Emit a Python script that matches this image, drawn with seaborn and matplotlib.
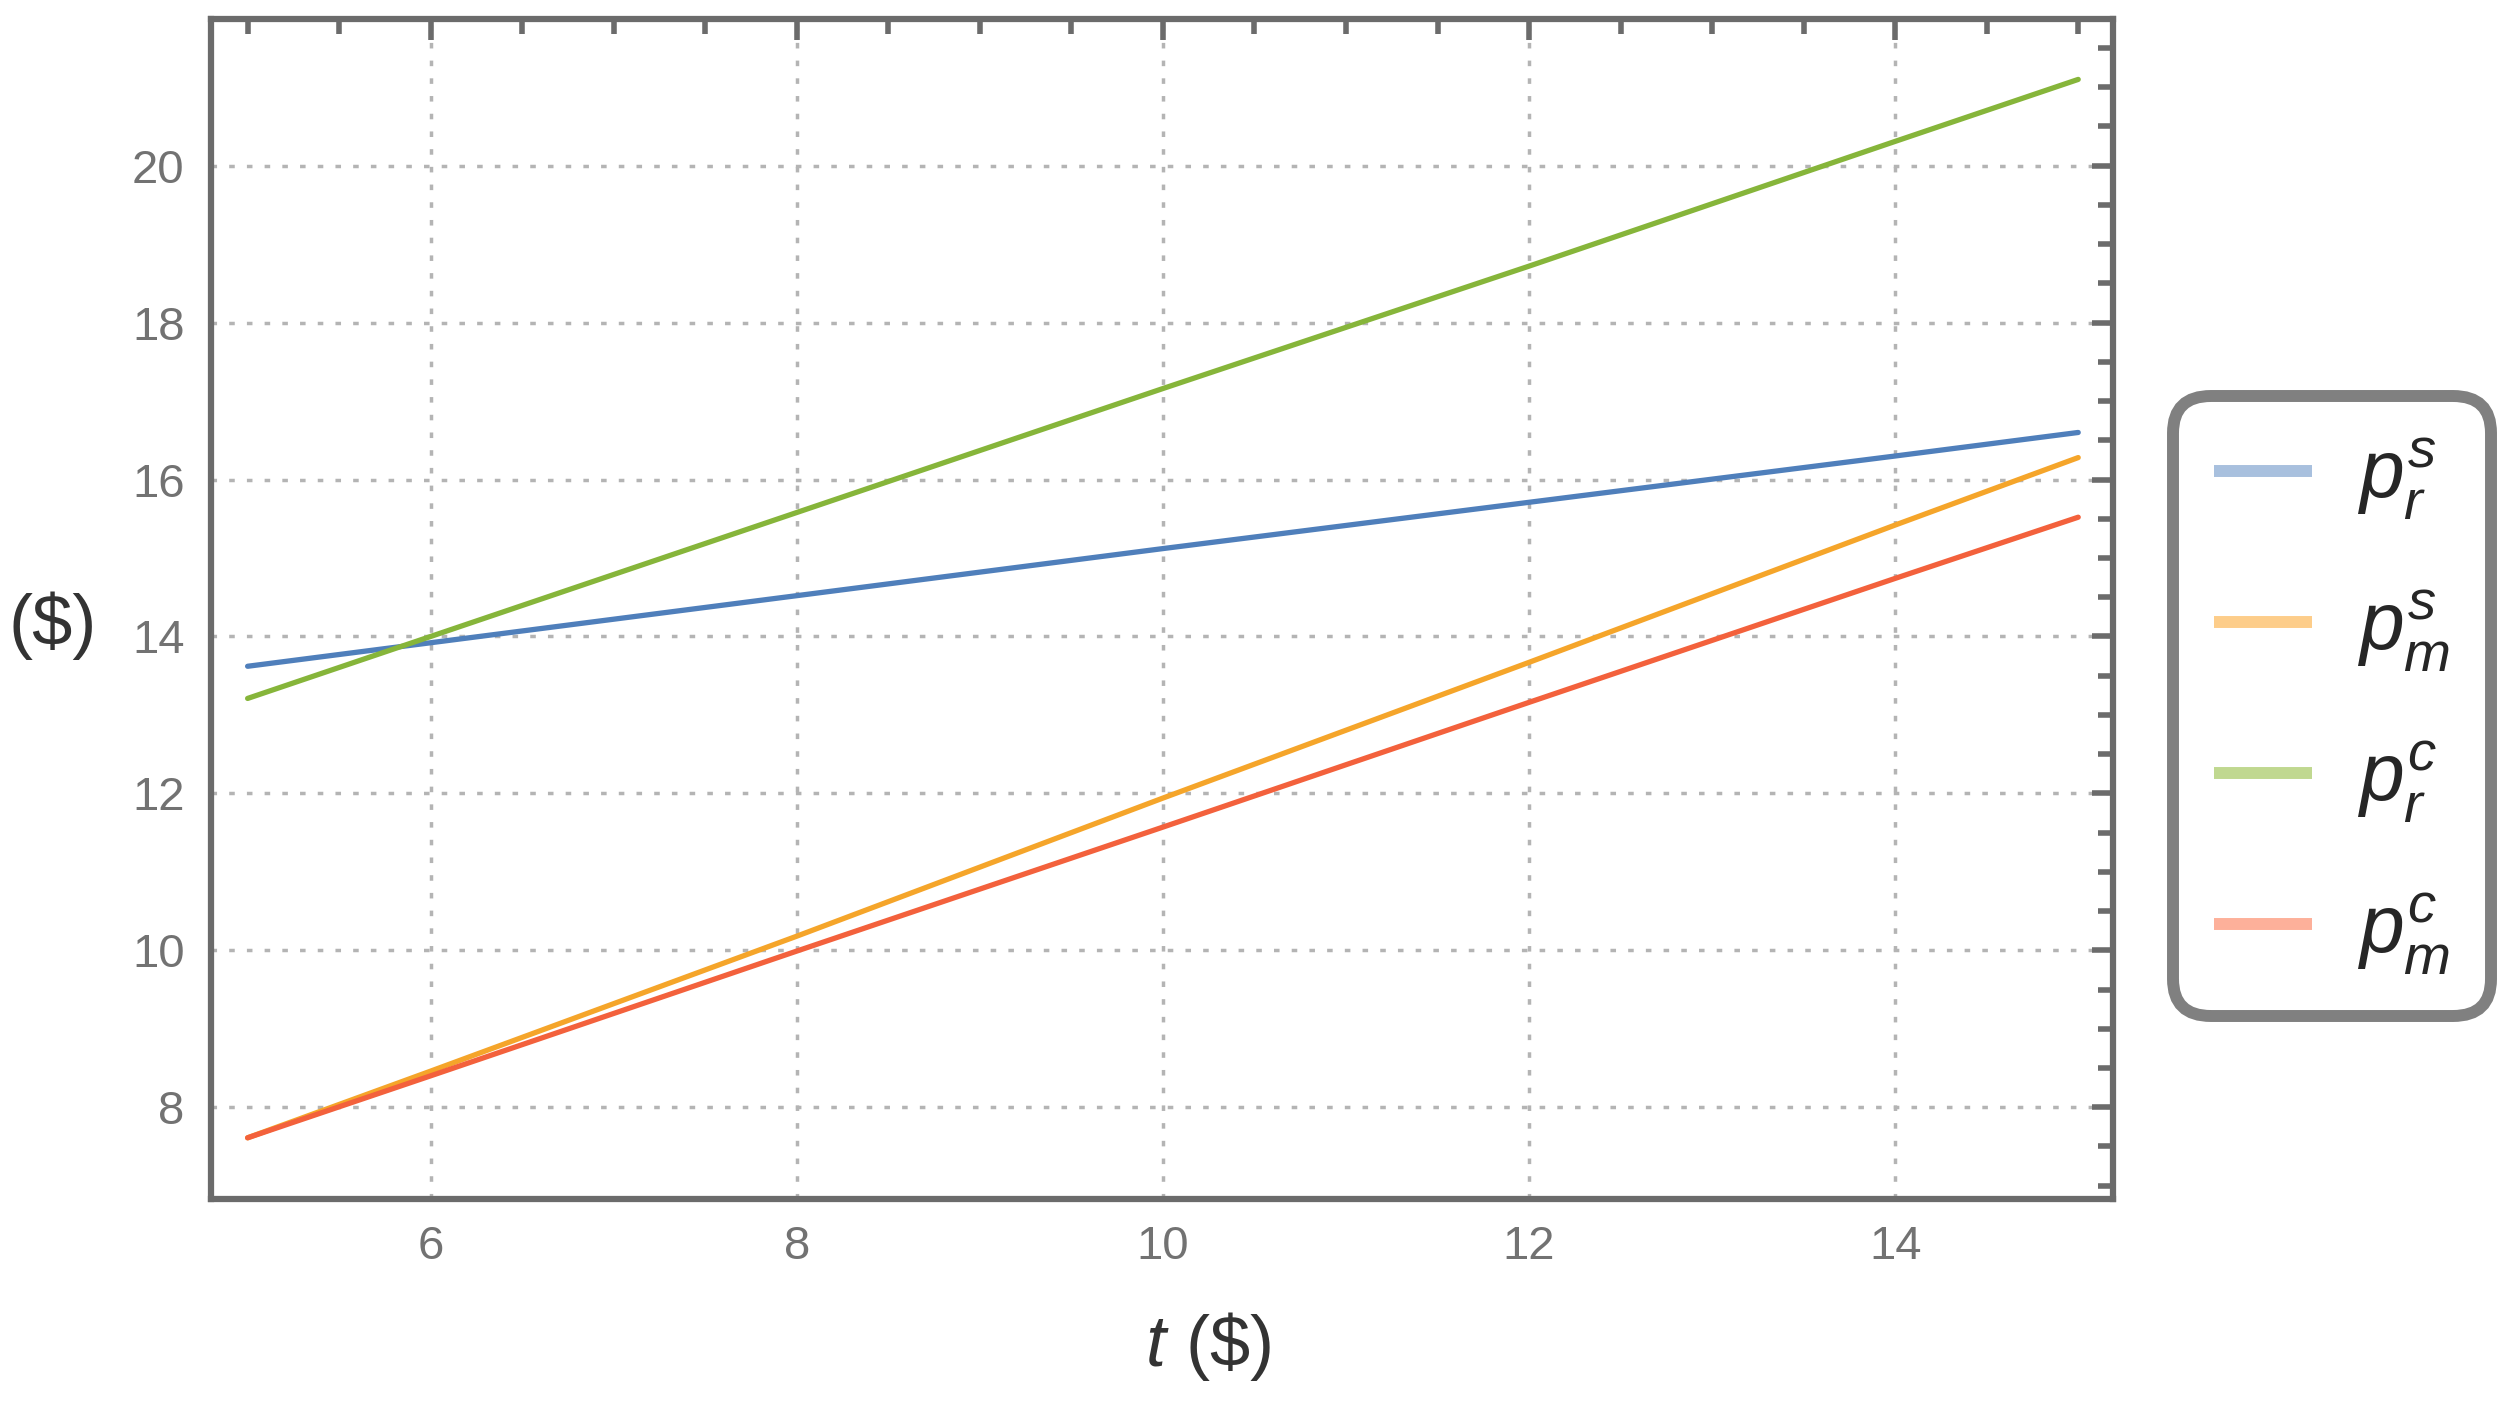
import numpy as np
import pandas as pd
import matplotlib
matplotlib.use("Agg")
import matplotlib.pyplot as plt
from matplotlib.lines import Line2D
from matplotlib.ticker import MultipleLocator, FixedLocator
import seaborn as sns

# ---- data ----
t_values = [5, 6, 8, 10, 12, 14, 15]
p_r_s = [13.62, 13.92, 14.52, 15.12, 15.71, 16.30, 16.60]
p_m_s = [7.61, 8.46, 10.18, 11.94, 13.67, 15.42, 16.28]
p_r_c = [13.21, 14.00, 15.58, 17.16, 18.72, 20.31, 21.10]
p_m_c = [7.61, 8.40, 9.99, 11.57, 13.16, 14.74, 15.52]
series_labels = [r"$p_r^s$", r"$p_m^s$", r"$p_r^c$", r"$p_m^c$"]
x_ticks = [6, 8, 10, 12, 14]
y_ticks = [8, 10, 12, 14, 16, 18, 20]
x_label = r"$t$ (\$)"
y_label = r"(\$)"

line_colors = ["#4f7fbb", "#f5a52a", "#86b53a", "#f3613c"]
legend_colors = ["#a8c0de", "#fdcd8a", "#c0d890", "#fdb09a"]

df = pd.DataFrame({
    "t": t_values * 4,
    "p": p_r_s + p_m_s + p_r_c + p_m_c,
    "series": sum([[lab] * len(t_values) for lab in series_labels], []),
})

sns.set_theme(style="white")
plt.rcParams["font.family"] = ["Liberation Sans", "DejaVu Sans"]
plt.rcParams["mathtext.fontset"] = "custom"
plt.rcParams["mathtext.rm"] = "Liberation Sans"
plt.rcParams["mathtext.it"] = "Liberation Sans:italic"
plt.rcParams["mathtext.bf"] = "Liberation Sans:bold"

W, H = 2518, 1407
fig = plt.figure(figsize=(W / 100, H / 100), dpi=100)
L, R, T, B = 211, 2113, 19, 1199
ax = fig.add_axes([L / W, 1 - B / H, (R - L) / W, (B - T) / H])

sns.lineplot(data=df, x="t", y="p", hue="series", palette=line_colors,
             hue_order=series_labels, linewidth=3.8, legend=False, ax=ax,
             estimator=None, sort=True)

ax.set_xlim(4.80, 15.19)
ax.set_ylim(6.83, 21.87)

frame_col = "#6b6b6b"
for sp in ax.spines.values():
    sp.set_linewidth(4.5)
    sp.set_color(frame_col)
    sp.set_visible(True)

ax.xaxis.set_major_locator(FixedLocator(x_ticks))
ax.yaxis.set_major_locator(FixedLocator(y_ticks))
ax.xaxis.set_minor_locator(MultipleLocator(0.5))
ax.yaxis.set_minor_locator(MultipleLocator(0.5))
ax.tick_params(which="both", direction="in", top=True, right=True,
               color=frame_col, width=4.0)
ax.tick_params(which="major", length=15, labelsize=34, labelcolor="#727272")
ax.tick_params(which="minor", length=11)
ax.tick_params(axis="x", which="major", pad=19)
ax.tick_params(axis="y", which="major", pad=19)

ax.grid(True, which="major", color="#b4b4b4", linestyle=(0, (1.6, 3.5)),
        linewidth=2.5)
ax.set_axisbelow(True)

ax.set_xlabel(x_label, fontsize=52, color="#333333")
ax.set_ylabel(y_label, fontsize=52, color="#333333", rotation=0)
ax.xaxis.set_label_coords(0.524, -0.1246)
ax.xaxis.label.set_va("center")
ax.yaxis.set_label_coords(-0.0831, 0.4856)
ax.yaxis.label.set_va("center")
ax.yaxis.label.set_ha("center")

handles = [Line2D([0], [0], color=c, linewidth=8.6, solid_capstyle="butt")
           for c in legend_colors]
leg = fig.legend(handles, series_labels, loc="center",
                 bbox_to_anchor=(2332 / W, 1 - 706 / H), fontsize=58,
                 frameon=True, fancybox=True, handlelength=1.22,
                 handletextpad=0.56, labelspacing=0.81, borderpad=0.5)
frame = leg.get_frame()
frame.set_edgecolor("#808080")
frame.set_linewidth(8.6)
frame.set_facecolor("white")
frame.set_alpha(1)
frame.set_boxstyle("round", pad=0, rounding_size=0.46)

fig.savefig("out.png", dpi=100, facecolor="white")
